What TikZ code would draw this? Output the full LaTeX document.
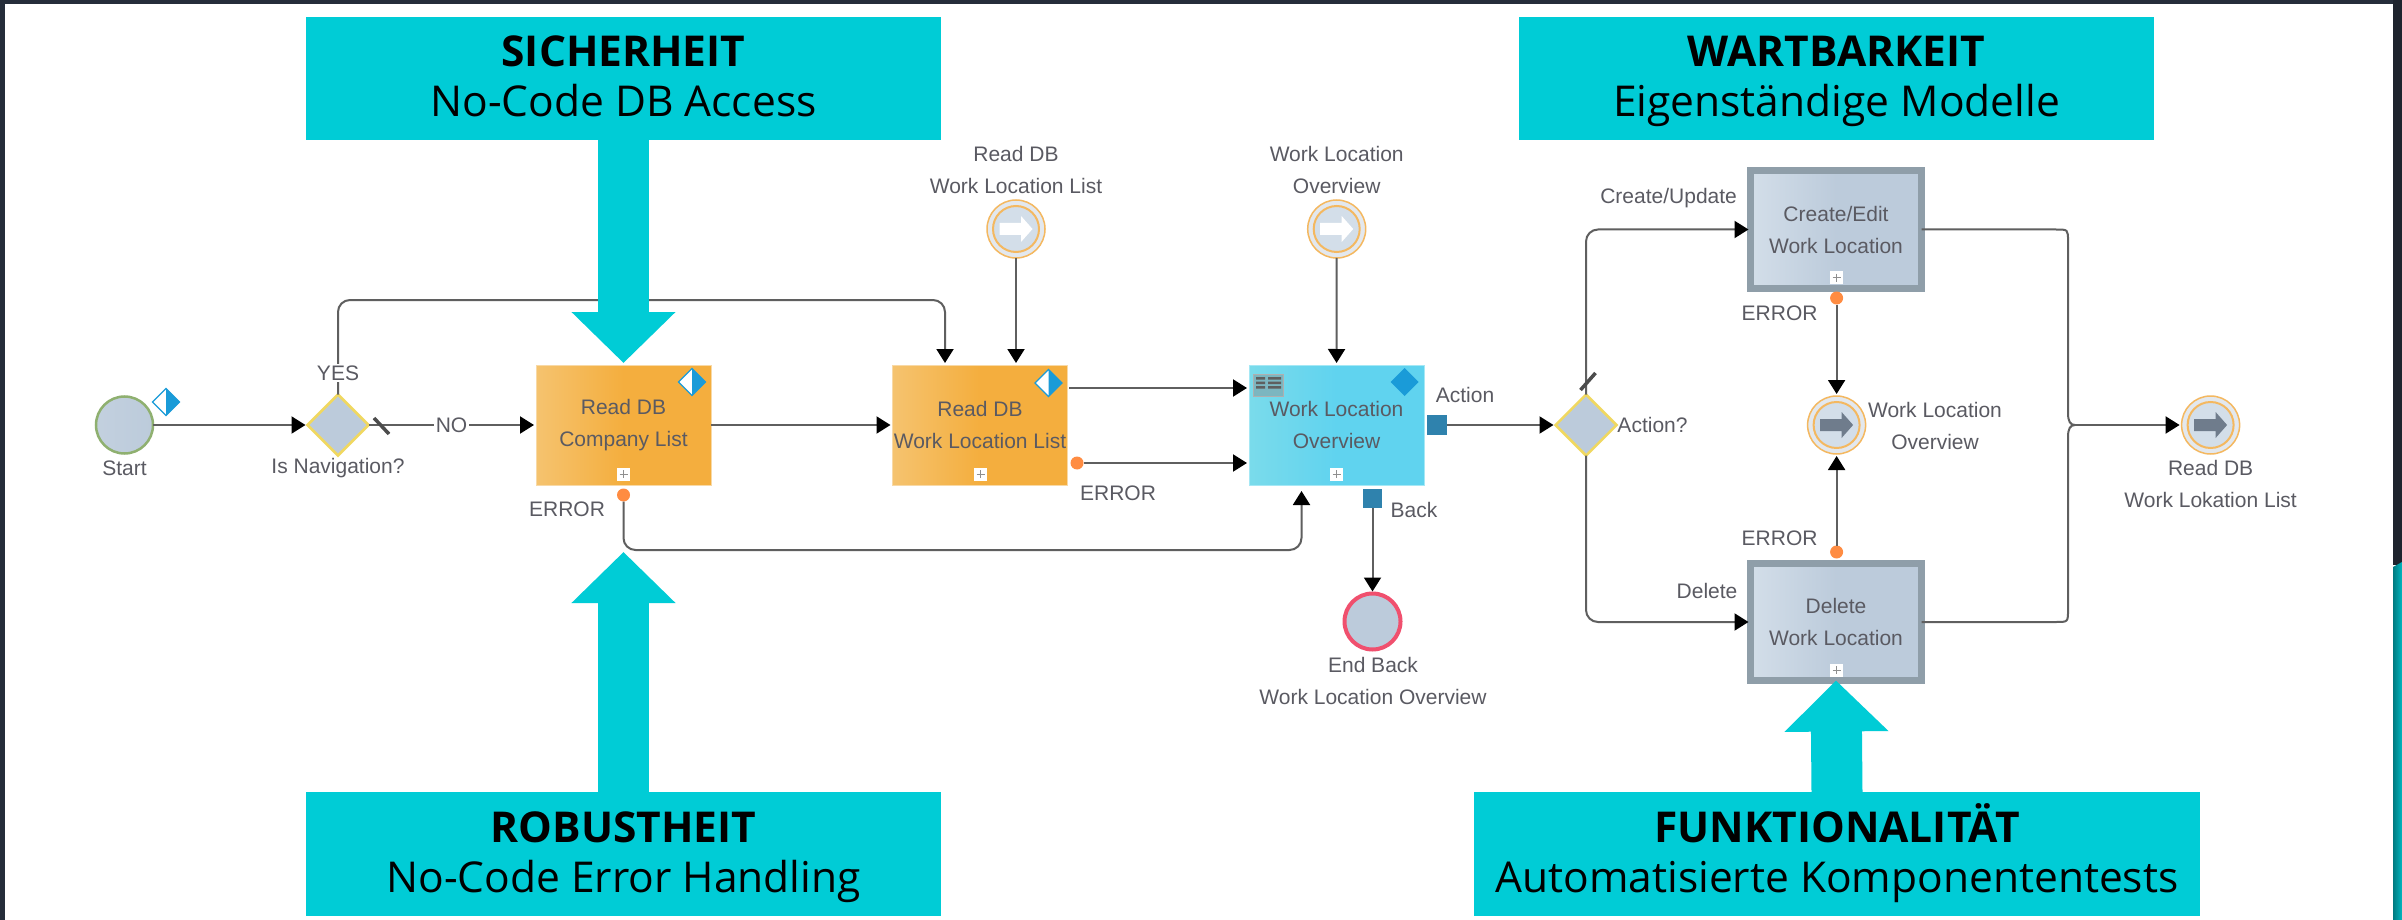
\documentclass[tikz,border=0pt]{standalone}
\usepackage{fontspec}
\setmainfont{Liberation Sans}
\newfontfamily\bannerfont{Open Sans}
\usetikzlibrary{arrows.meta,shapes.geometric,calc}
\definecolor{teal1}{HTML}{00CCD6}
\definecolor{frame1}{HTML}{252D3A}
\definecolor{txt1}{HTML}{5A5A62}
\definecolor{line1}{HTML}{5F5F5F}
\definecolor{blue1}{HTML}{1A9BD8}
\definecolor{orange1}{HTML}{FF8C42}
\definecolor{steel}{HTML}{BCCBDB}
\definecolor{steellight}{HTML}{D3DEE9}
\definecolor{frameg}{HTML}{8F9EA9}
\definecolor{portb}{HTML}{2F82AD}
\definecolor{oedge}{HTML}{F8D9A6}\definecolor{olight}{HTML}{F5C36F}\definecolor{omain}{HTML}{F4AE3E}
\definecolor{bedge}{HTML}{A5E8F5}\definecolor{blight}{HTML}{7ADBEB}\definecolor{bmain}{HTML}{60D3EF}
\definecolor{gateedge}{HTML}{F0D860}\definecolor{startedge}{HTML}{8FB070}\definecolor{endedge}{HTML}{F0506E}
\definecolor{evedge}{HTML}{F4B860}\definecolor{evfill}{HTML}{E3E8EE}\definecolor{glyphg}{HTML}{6F7C8C}
\tikzset{
  x=1pt,y=-1pt,
  lbl/.style={font=\fontsize{21}{32}\selectfont,text=txt1,align=center,inner sep=0pt,outer sep=0pt},
  lblbg/.style={lbl,fill=white,inner sep=2pt},
  flow/.style={draw=line1,line width=2pt,rounded corners=12pt,-{Triangle[length=14pt,width=17pt,fill=black,color=black]},shorten >=2pt},
  plainflow/.style={draw=line1,line width=2pt},
  task/.style={rectangle,minimum width=175pt,minimum height=120pt,inner sep=0pt,outer sep=0pt,lbl},
  orangetask/.style={task,draw=oedge,line width=1pt,left color=olight,right color=omain,middle color=omain},
  bluetask/.style={task,draw=bedge,line width=1pt,left color=blight,right color=bmain,middle color=bmain},
  subtask/.style={task,minimum width=171pt,minimum height=117pt,draw=frameg,line width=7pt,left color=steellight,right color=steel,middle color=steel},
  gate/.style={diamond,aspect=1,minimum width=61pt,minimum height=61pt,inner sep=0pt,outer sep=0pt,draw=gateedge,line width=2.5pt,fill=steel},
  evstart/.style={circle,minimum size=57pt,inner sep=0pt,outer sep=0pt,draw=startedge,line width=2.5pt,left color=steel!90,right color=steel},
  evend/.style={circle,minimum size=56pt,inner sep=0pt,outer sep=0pt,draw=endedge,line width=4pt,fill=steel},
  evouter/.style={circle,minimum size=58pt,inner sep=0pt,outer sep=0pt,draw=evedge,line width=1.5pt,fill=evfill},
  evinner/.style={circle,minimum size=46pt,inner sep=0pt,outer sep=0pt,draw=evedge,line width=2pt,fill=steellight},
  errdot/.style={circle,minimum size=13pt,inner sep=0pt,outer sep=0pt,fill=orange1},
  port/.style={rectangle,minimum width=19.5pt,minimum height=19.5pt,inner sep=0pt,outer sep=0pt,fill=portb},
  plusbox/.style={rectangle,minimum size=13pt,inner sep=0pt,outer sep=0pt,fill=white},
  banner/.style={rectangle,fill=teal1,inner sep=0pt,outer sep=0pt,text=black,align=center,font=\bannerfont\fontsize{42.5}{50.5}\selectfont},
  bigarrow/.style={draw=teal1,line width=51pt,-{Triangle[length=51pt,width=101pt,fill=teal1,color=teal1]}},
  slash/.style={draw=line1!80!black,line width=3.5pt},
}
\newcommand{\bantext}[3]{\textbf{#1}\rule{0pt}{40pt}\\#2\rule[-#3pt]{0pt}{#3pt}}
\newcommand{\plusmark}[3]{%
  \node[plusbox] (#1) at (#2,#3) {};
  \draw[line1!70,line width=1pt] (#2-4,#3) -- (#2+4,#3) (#2,#3-4) -- (#2,#3+4);}
\newcommand{\halfmark}[3]{%
  \node[diamond,aspect=1,minimum size=27pt,inner sep=0pt,outer sep=0pt,fill=white,draw=blue1,line width=1.2pt] (#1) at (#2,#3) {};
  \fill[blue1] (#2,#3-13.5) -- (#2+13.5,#3) -- (#2,#3+13.5) -- cycle;}
\newcommand{\evglyph}[3]{%
  \fill[#3] (#1-16.5,#2-6) -- (#1+5,#2-6) -- (#1+5,#2-13) -- (#1+16.5,#2) -- (#1+5,#2+13) -- (#1+5,#2+6) -- (#1-16.5,#2+6) -- cycle;}
\begin{document}
\begin{tikzpicture}
\path[use as bounding box,fill=white] (0,0) rectangle (2402,920);
% window frame
\fill[frame1] (0,0) rectangle (2402,4);
\fill[frame1] (0,0) rectangle (5,920);
\fill[frame1!80!black] (2393,0) rectangle (2402,565);
\shade[left color=teal1!60!black,right color=teal1!90!black] (2393,567) -- (2402,562) -- (2402,920) -- (2393,920) -- cycle;
% nodes
\node[evstart] (start) at (124.5,425) {};
\halfmark{startm}{166}{402}
\node[lbl] (startl) at (124.5,468) {Start};
\node[gate] (gw1) at (338,425) {};
\node[lbl] (gw1l) at (338,468) {Is Navigation?};
\node[orangetask] (box1) at (623.5,425) {Read DB\\Company List};
\halfmark{box1m}{692}{382}
\plusmark{box1p}{623.5}{474}
\node[errdot] (dot1) at (623.5,495) {};
\node[lbl] (err1) at (567,509) {ERROR};
\node[orangetask] (box2) at (980,425) {Read DB\\Work Location List};
\halfmark{box2m}{1048.5}{383}
\plusmark{box2p}{980.5}{474}
\node[errdot] (dot2) at (1077,463) {};
\node[lbl] (err2) at (1118,493.5) {ERROR};
\node[evouter] (ev1) at (1016,229) {};
\node[evinner] (ev1i) at (ev1) {};
\evglyph{1016}{229}{white}
\node[lbl] (ev1l) at (1016,170) {Read DB\\Work Location List};
\node[evouter] (ev2) at (1336.7,229) {};
\node[evinner] (ev2i) at (ev2) {};
\evglyph{1336.7}{229}{white}
\node[lbl] (ev2l) at (1336.7,170) {Work Location\\Overview};
\node[bluetask] (box3) at (1336.5,425) {Work Location\\Overview};
\node[diamond,aspect=1,minimum size=28pt,inner sep=0pt,outer sep=0pt,fill=blue1] (box3m) at (1404.6,382) {};
\plusmark{box3p}{1336.7}{474}
% table icon
\node[rectangle,minimum width=30pt,minimum height=22pt,inner sep=0pt,outer sep=0pt,fill=blight!60!gray,draw=line1!50,line width=1pt] (box3i) at (1268,385) {};
\fill[line1] (1256,377) rectangle (1265,379.5) (1268,377) rectangle (1281,379.5) (1256,381.5) rectangle (1265,384) (1268,381.5) rectangle (1281,384) (1256,386) rectangle (1265,388.5) (1268,386) rectangle (1281,388.5);
\node[port] (act) at (1437,425) {};
\node[lbl] (actl) at (1465,395) {Action};
\node[port] (back) at (1372.5,498.5) {};
\node[lbl] (backl) at (1414,509.6) {Back};
\node[evend] (endev) at (1372.5,621.5) {};
\node[lbl] (endl) at (1373,681) {End Back\\Work Location Overview};
\node[gate] (gw2) at (1586,425) {};
\node[lbl] (gw2l) at (1652.5,425) {Action?};
\node[subtask] (box4) at (1836,229.5) {Create/Edit\\Work Location};
\plusmark{box4p}{1836.6}{277.6}
\node[subtask] (box5) at (1836,622) {Delete\\Work Location};
\plusmark{box5p}{1836.6}{670}
\node[errdot] (dot4) at (1836.6,298) {};
\node[lbl] (err4) at (1779.6,313) {ERROR};
\node[errdot] (dot5) at (1836.6,552) {};
\node[lbl] (err5) at (1779.6,538) {ERROR};
\node[evouter] (ev3) at (1836.6,425) {};
\node[evinner] (ev3i) at (ev3) {};
\evglyph{1836.6}{425}{glyphg}
\node[lbl] (ev3l) at (1935,426) {Work Location\\Overview};
\node[evouter] (ev4) at (2210.6,425) {};
\node[evinner] (ev4i) at (ev4) {};
\evglyph{2210.6}{425}{glyphg}
\node[lbl] (ev4l) at (2210.6,484) {Read DB\\Work Lokation List};
\node[lbl] (cul) at (1668.6,198.5) {Create/Update};
\node[lbl] (dell) at (1707,591) {Delete};
% ports and bends
\coordinate (b2in) at (945,365);
\coordinate (b2ev) at (1016,365);
\coordinate (b2out) at (1069,388);
\coordinate (b3a) at (1249,388);
\coordinate (b3b) at (1249,463);
\coordinate (b3c) at (1301.5,491);
\coordinate (merge) at (2075,425);
\coordinate (robtip) at (623.5,552);
% connectors
\draw[flow] (start) -- (gw1);
\draw[flow] (gw1.east) -- (box1);
\node[lblbg] (nol) at (451.5,425) {NO};
\draw[flow] (gw1.north) -- (338,300) -- (945,300) -- (b2in);
\node[lblbg] (yesl) at (338,373) {YES};
\draw[flow] (box1) -- (box2);
\draw[flow] (ev1) -- (b2ev);
\draw[flow] (ev2) -- (box3);
\draw[flow] (b2out) -- (b3a);
\draw[flow] (dot2) -- (b3b);
\draw[flow,shorten >=0pt] (dot1) -- (623.5,550) -- (1301.5,550) -- (b3c);
\draw[flow] (act) -- (gw2);
\draw[flow] (back) -- (endev);
\draw[flow] (gw2.north) -- (1586,229.5) -- (box4.west);
\draw[flow] (gw2.south) -- (1586,622) -- (box5.west);
\draw[flow] (dot4) -- (ev3);
\draw[flow] (dot5) -- (ev3);
\draw[plainflow] (box4.east) -- (2056,229.5) .. controls (2068,229.5) and (2068,229.5) .. (2068,241) -- (2068,413) .. controls (2068,421) and (2070,425) .. (merge);
\draw[plainflow] (box5.east) -- (2056,622) .. controls (2068,622) and (2068,622) .. (2068,610) -- (2068,437) .. controls (2068,429) and (2070,425) .. (merge);
\draw[flow] (merge) -- (ev4);
% slashes
\draw[slash] (374,418) -- (389,434);
\draw[slash] (1580.5,390) -- (1595.5,373);
% banners
\node[banner,minimum width=635pt,minimum height=123pt] (ban1) at (623.5,78.5) {\bantext{SICHERHEIT}{No-Code DB Access}{14}};
\node[banner,minimum width=635pt,minimum height=123pt] (ban2) at (1836.5,78.5) {\bantext{WARTBARKEIT}{Eigenständige Modelle}{14}};
\node[banner,minimum width=635pt,minimum height=124pt] (ban3) at (623.5,854) {\bantext{ROBUSTHEIT}{No-Code Error Handling}{13}};
\node[banner,minimum width=726pt,minimum height=124pt] (ban4) at (1837,854) {\bantext{FUNKTIONALITÄT}{Automatisierte Komponententests}{13}};
\draw[bigarrow,shorten >=2pt] (ban1.south) -- (box1.north);
\draw[bigarrow] (ban3.north) -- (robtip);
\draw[bigarrow] (ban4.north) -- (box5.south);
\end{tikzpicture}
\end{document}
